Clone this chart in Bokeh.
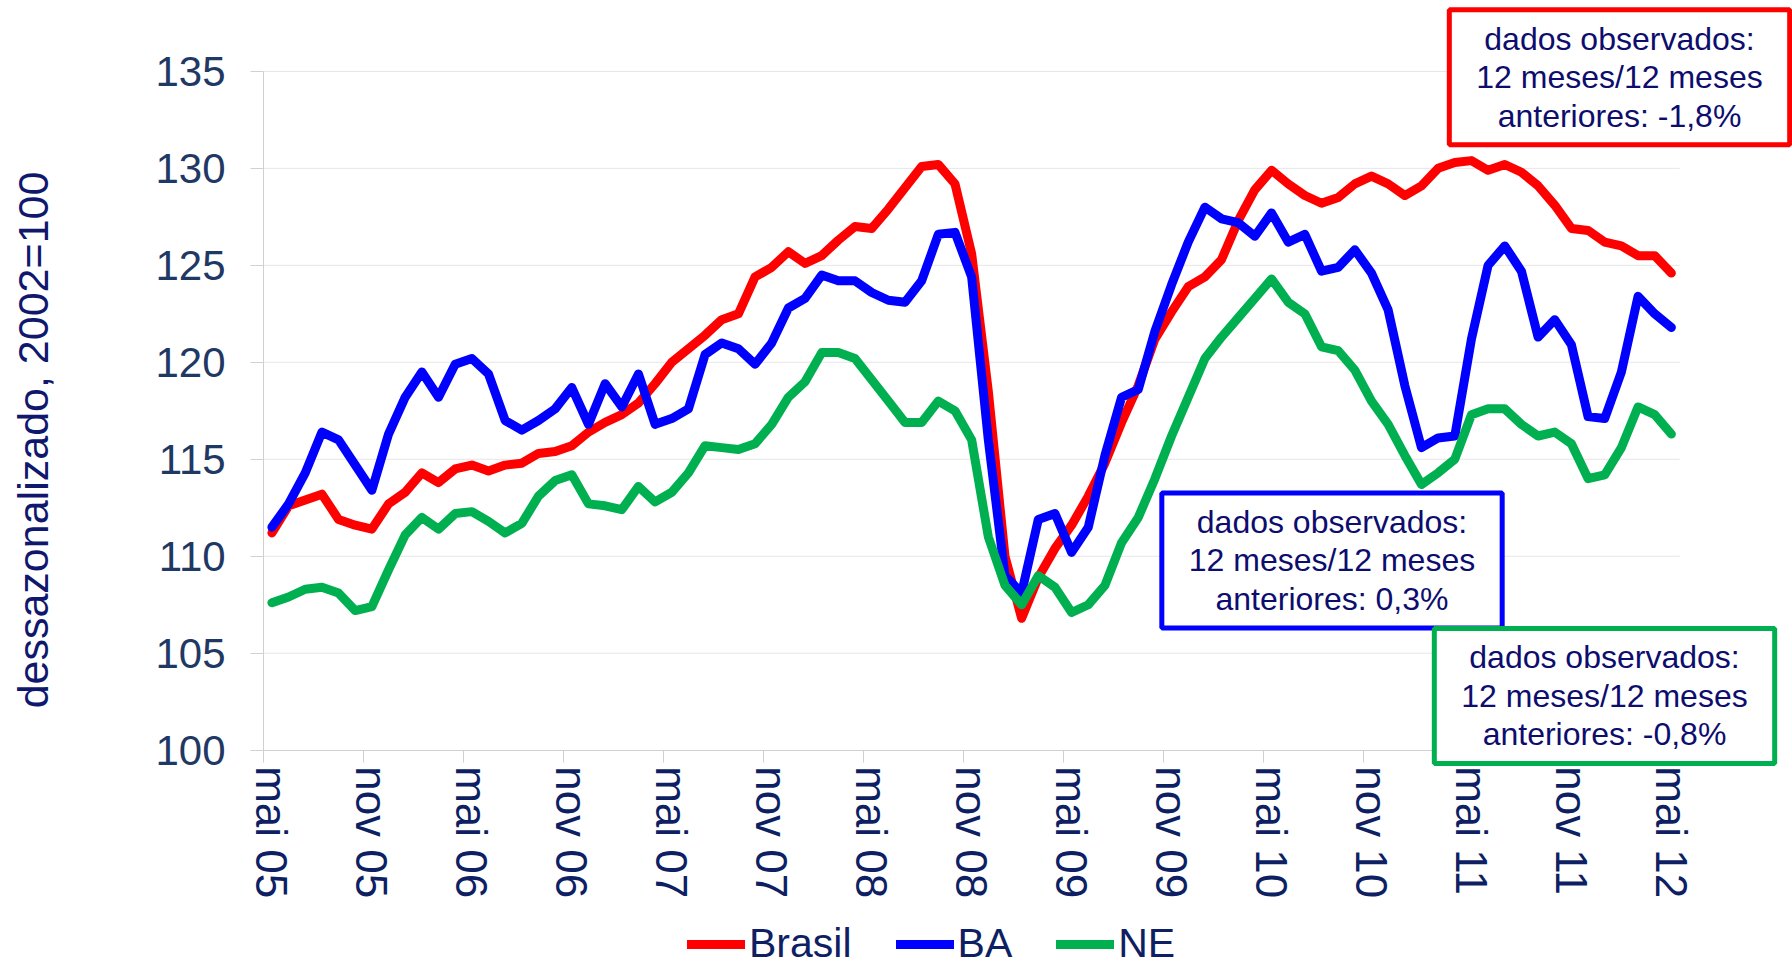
import math
from bokeh.plotting import figure
from bokeh.models import FixedTicker, Label, Legend, LegendItem, Range1d
from bokeh.embed import file_html
from bokeh.resources import INLINE

MONTHS = ["jan", "fev", "mar", "abr", "mai", "jun", "jul", "ago", "set", "out", "nov", "dez"]
# monthly categories: mai 05 ... mai 12
CATEGORIES = [f"{MONTHS[(4 + k) % 12]} {5 + (4 + k) // 12:02d}" for k in range(85)]
TICK_LABELS = CATEGORIES[::6]

BRASIL = [111.2, 112.6, 112.9, 113.2, 111.9, 111.6, 111.4, 112.7, 113.3, 114.3,
          113.8, 114.5, 114.7, 114.4, 114.7, 114.8, 115.3, 115.4, 115.7, 116.4,
          116.9, 117.3, 117.9, 118.9, 120.0, 120.7, 121.4, 122.2, 122.5, 124.4,
          124.9, 125.7, 125.1, 125.5, 126.3, 127.0, 126.9, 127.9, 129.0, 130.1,
          130.2, 129.2, 125.6, 118.5, 110.0, 106.8, 108.9, 110.4, 111.6, 113.1,
          114.8, 116.9, 118.8, 121.2, 122.6, 123.9, 124.4, 125.3, 127.3, 128.9,
          129.9, 129.2, 128.6, 128.2, 128.5, 129.2, 129.6, 129.2, 128.6, 129.1,
          130.0, 130.3, 130.4, 129.9, 130.2, 129.8, 129.1, 128.1, 126.9, 126.8,
          126.2, 126.0, 125.5, 125.5, 124.6]

BA = [111.5, 112.7, 114.3, 116.4, 116.0, 114.7, 113.4, 116.3, 118.2, 119.5,
      118.2, 119.9, 120.2, 119.4, 117.0, 116.5, 117.0, 117.6, 118.7, 116.8,
      118.9, 117.7, 119.4, 116.8, 117.1, 117.6, 120.4, 121.0, 120.7, 119.9,
      121.0, 122.8, 123.3, 124.5, 124.2, 124.2, 123.6, 123.2, 123.1, 124.2,
      126.6, 126.7, 124.4, 116.0, 109.0, 108.1, 111.9, 112.2, 110.2, 111.5,
      115.2, 118.2, 118.6, 121.6, 124.0, 126.2, 128.0, 127.4, 127.2, 126.5,
      127.7, 126.2, 126.6, 124.7, 124.9, 125.8, 124.6, 122.7, 118.8, 115.6,
      116.1, 116.2, 121.2, 125.0, 126.0, 124.7, 121.3, 122.2, 120.9, 117.2,
      117.1, 119.5, 123.4, 122.5, 121.8]

NE = [107.6, 107.9, 108.3, 108.4, 108.1, 107.2, 107.4, 109.3, 111.1, 112.0,
      111.4, 112.2, 112.3, 111.8, 111.2, 111.7, 113.1, 113.9, 114.2, 112.7,
      112.6, 112.4, 113.6, 112.8, 113.3, 114.3, 115.7, 115.6, 115.5, 115.8,
      116.8, 118.2, 119.0, 120.5, 120.5, 120.2, 119.1, 118.0, 116.9, 116.9,
      118.0, 117.5, 116.0, 111.0, 108.5, 107.5, 109.0, 108.4, 107.1, 107.5,
      108.5, 110.7, 112.0, 114.0, 116.2, 118.2, 120.2, 121.3, 122.3, 123.3,
      124.3, 123.1, 122.5, 120.8, 120.6, 119.6, 118.0, 116.8, 115.2, 113.7,
      114.3, 115.0, 117.3, 117.6, 117.6, 116.8, 116.2, 116.4, 115.8, 114.0,
      114.2, 115.6, 117.7, 117.3, 116.3]

SERIES_NAMES = ["Brasil", "BA", "NE"]
SERIES_COLORS = ["#FF0000", "#0000FF", "#00B050"]
BOX_VALUES = ["-1,8%", "0,3%", "-0,8%"]
Y_TICKS = [100, 105, 110, 115, 120, 125, 130, 135]
Y_TITLE = "dessazonalizado, 2002=100"

FONT = "Liberation Sans"
NAVY = "#0E1F63"
TEXT_NAVY = "#0D0D6E"

# ---- layout (pixels) ----
W, H = 1792, 970
PX_X0, PX_PER_CAT = 263.1, 16.66        # left edge of the category axis
PX_Y135, PX_PER_UNIT = 70.9, 19.394     # pixel row of value 135
Y_MAX = 135
N = len(CATEGORIES)

def u(px):
    return (px - PX_X0) / PX_PER_CAT

def v(py):
    return Y_MAX - (py - PX_Y135) / PX_PER_UNIT

p = figure(width=W, height=H, output_backend="svg", toolbar_location=None,
           x_range=Range1d(u(0), u(W)), y_range=Range1d(v(H), v(0)),
           min_border=0)
p.outline_line_color = None
p.xgrid.grid_line_color = None
p.ygrid.grid_line_color = None

# horizontal gridlines limited to the plotting area
grid_vals = [t for t in Y_TICKS if t != Y_TICKS[0]]
p.segment(x0=[0] * len(grid_vals), x1=[N] * len(grid_vals), y0=grid_vals, y1=grid_vals,
          line_color="#E6E6E6", line_width=1)

xs = [i + 0.5 for i in range(N)]
renderers = []
for vals, col in zip([BRASIL, BA, NE], SERIES_COLORS):
    r = p.line(xs, vals, line_color=col, line_width=9, line_join="round",
               line_cap="round")
    renderers.append(r)

# x axis: labels centred on categories, tick marks at category boundaries
xa = p.xaxis[0]
xa.fixed_location = Y_TICKS[0]
xa.bounds = (0, N)
major = [i * 6 + 0.5 for i in range(len(TICK_LABELS))]
minor = [i * 6 for i in range(len(TICK_LABELS))]
xa.ticker = FixedTicker(ticks=major, minor_ticks=minor)
xa.major_label_overrides = {m: lab for m, lab in zip(major, TICK_LABELS)}
xa.major_label_orientation = "vertical"
xa.major_label_text_font = FONT
xa.major_label_text_font_size = "44px"
xa.major_label_text_color = NAVY
xa.major_tick_line_alpha = 0
xa.major_tick_out = 12
xa.major_tick_in = 0
xa.minor_tick_out = 12
xa.minor_tick_in = 0
xa.minor_tick_line_color = "#D0D0D0"
xa.axis_line_color = "#D0D0D0"
xa.major_label_standoff = 4

ya = p.yaxis[0]
ya.fixed_location = 0
ya.bounds = (Y_TICKS[0], Y_TICKS[-1])
ya.ticker = FixedTicker(ticks=Y_TICKS)
ya.major_label_text_font = FONT
ya.major_label_text_font_size = "42px"
ya.major_label_text_color = "#1F3864"
ya.major_tick_out = 13
ya.major_tick_in = 0
ya.major_tick_line_color = "#D0D0D0"
ya.minor_tick_line_color = None
ya.axis_line_color = "#D0D0D0"
ya.major_label_standoff = 25

p.add_layout(Label(x=u(32), y=v(439.5), text=Y_TITLE, angle=math.pi / 2,
                   text_font=FONT, text_font_size="43px", text_color="#10186E",
                   text_align="center", text_baseline="middle"))

# annotation boxes
box_px = [(1619, 76.7), (1331.5, 560.0), (1604, 695.4)]
for (bx, by), col, val in zip(box_px, SERIES_COLORS, BOX_VALUES):
    lab = Label(x=u(bx), y=v(by),
                text=f"dados observados:\n12 meses/12 meses\nanteriores: {val}",
                text_font=FONT, text_font_size="32px", text_color=TEXT_NAVY,
                text_align="center", text_baseline="middle", text_line_height=1.07,
                background_fill_color="white", border_line_color=col,
                border_line_width=5, padding=dict(x=27, y=11))
    p.add_layout(lab)

legend = Legend(items=[LegendItem(label=n, renderers=[r])
                       for n, r in zip(SERIES_NAMES, renderers)],
                orientation="horizontal", location=(687, 3),
                label_text_font=FONT, label_text_font_size="41px",
                label_text_color=NAVY, glyph_width=58, glyph_height=12,
                label_standoff=4, spacing=44, padding=0, margin=0,
                border_line_color=None, background_fill_alpha=0)
p.add_layout(legend)

open("out.html", "w").write(file_html(p, INLINE))
